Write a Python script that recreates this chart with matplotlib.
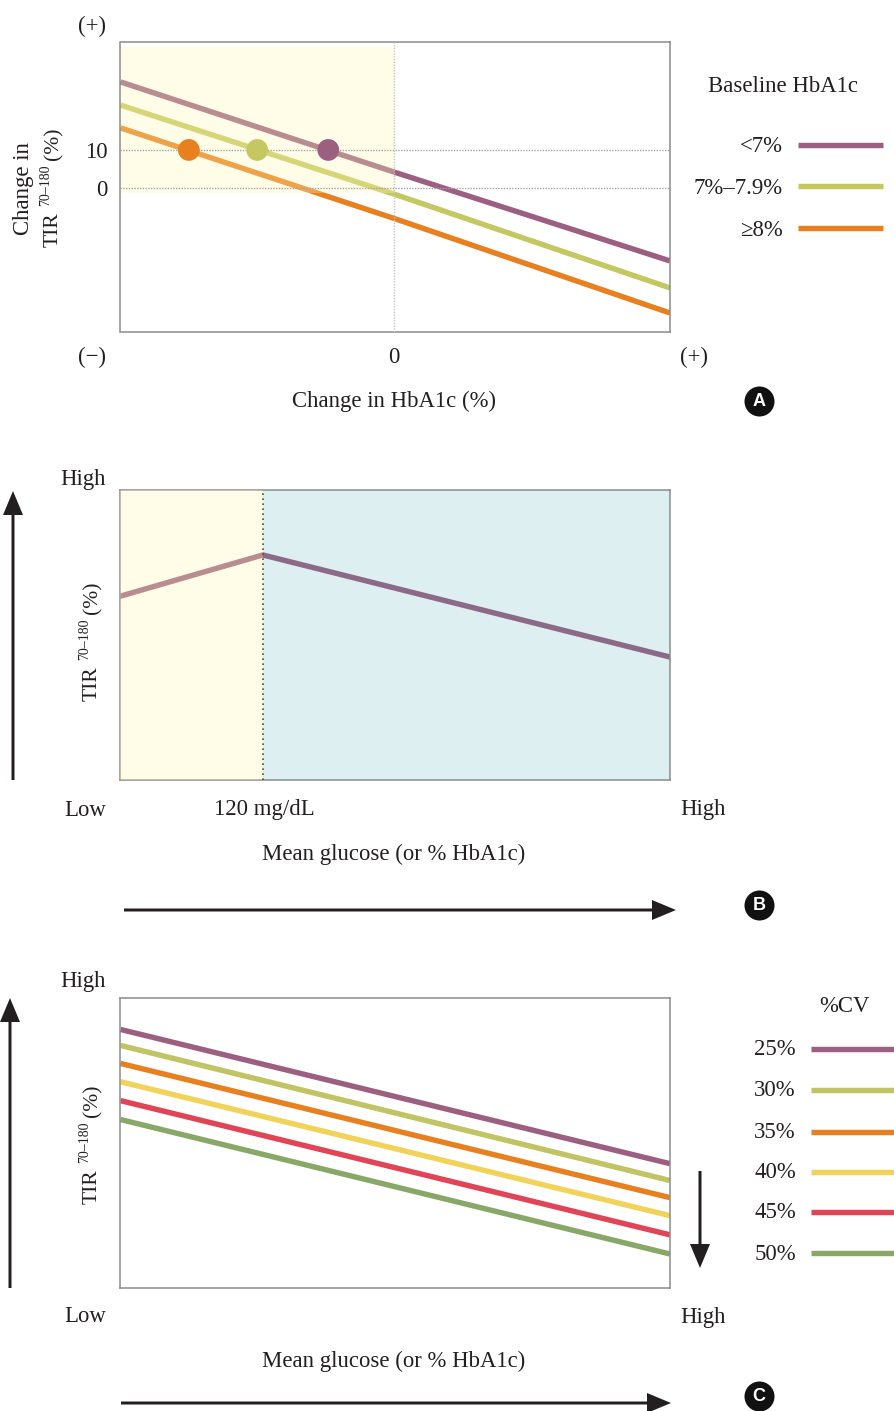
import matplotlib
matplotlib.use("Agg")
import matplotlib.pyplot as plt
from matplotlib.patches import Rectangle

plt.rcParams['font.family'] = ['Liberation Serif', 'DejaVu Serif']

# panel A data
a_x = [-1.0, 0.0, 1.01]
a_labels = ['<7%', '7%\u20137.9%', '\u22658%']
a_lines = [[27.9, 4.2, -19.2], [21.8, -1.6, -26.3], [15.8, -8.0, -32.9]]
a_points_x = [-0.24, -0.5, -0.75]
a_points_y = [10, 10, 10]
a_colors = ['#9c5f80', '#c5c860', '#e8801f']

# panel B data
b_x = [0, 25.9, 100]
b_y = [63.4, 77.6, 42.4]

# panel C data
c_x = [0, 100]
c_labels = ['25%', '30%', '35%', '40%', '45%', '50%']
c_lines = [[89.0, 42.8], [83.5, 37.0], [77.3, 31.1], [71.0, 24.9], [64.5, 18.3], [58.0, 11.7]]
c_colors = ['#9c5f80', '#c0c463', '#e8801f', '#f2d35a', '#e04456', '#88a868']

W, H = 895, 1411
TXT = '#231f20'
FS = 16.4
LW = 3.9

fig = plt.figure(figsize=(W / 100, H / 100), dpi=100)


def make_axes(top, bottom, left=120.5, right=670):
    ax = fig.add_axes([left / W, 1 - bottom / H, (right - left) / W, (bottom - top) / H])
    for s in ax.spines.values():
        s.set_color('#8c8c8c')
        s.set_linewidth(1.1)
    return ax


# overlay in pixel coordinates for labels, arrows, legends
ov = fig.add_axes([0, 0, 1, 1], zorder=5)
ov.set_xlim(0, W)
ov.set_ylim(H, 0)
ov.axis('off')
ov.patch.set_alpha(0)


def label(x, y, s, ha='center', size=FS):
    ov.text(x, y + 2, s, ha=ha, va='center', fontsize=size, color=TXT)


def vlabel(x, y, s, size=FS):
    # rotated text: x is the baseline, y the lower end
    ov.text(x, y, s, ha='left', va='baseline', rotation=90, rotation_mode='anchor',
            fontsize=size, color=TXT)


def tir_label(x, y):
    vlabel(x, y, 'TIR', size=15.5)
    vlabel(x - 9, y - 41, '70\u2013180', size=10)
    vlabel(x, y - 87, '(%)', size=15.5)


def arrow(x0, y0, x1, y1):
    ov.arrow(x0, y0, x1 - x0, y1 - y0, width=3, head_width=20, head_length=24,
             length_includes_head=True, color=TXT, linewidth=0)


def badge(y, s):
    ov.scatter([759], [y], s=467, color='#111111', linewidths=0)
    ov.text(759, y + 0.5, s, ha='center', va='center', fontsize=13, fontweight='bold',
            color='white', family='Liberation Sans')


# ---- panel A
ax = make_axes(42, 332)
ax.set_xlim(-1.0, 1.01)
ax.set_ylim(-37.9, 38.4)
for vals, col in zip(a_lines, a_colors):
    ax.plot(a_x, vals, color=col, lw=LW, solid_capstyle='butt', zorder=2)
ax.add_patch(Rectangle((-1.0, -1.3), 1.0, 38.3, facecolor=(1, 0.97, 0.7), alpha=0.3,
                       linewidth=0, zorder=3))
ax.axhline(10, color='#a5a5a5', lw=1, ls=(0, (1, 1)), zorder=4)
ax.axhline(0, color='#a5a5a5', lw=1, ls=(0, (1, 1)), zorder=4)
ax.axvline(0, color='#c4c4c4', lw=1, ls=(0, (1, 1)), zorder=4)
ax.scatter(a_points_x, a_points_y, s=245, c=a_colors, linewidths=0, zorder=5)
ax.set_xticks([0])
ax.set_yticks([0, 10])
ax.tick_params(length=0, labelsize=FS, labelcolor=TXT)
ax.tick_params(axis='x', pad=11)
ax.tick_params(axis='y', pad=9)

label(92, 24, '(+)')
label(92, 355, '(\u2212)')
label(694, 355, '(+)')
vlabel(29, 235, 'Change in')
tir_label(58, 247)
label(394, 399, 'Change in HbA1c (%)')
label(783, 85, 'Baseline HbA1c')
for name, col, y in zip(a_labels, a_colors, [145, 186, 228]):
    label(783, y, name, ha='right')
    ov.plot([798, 883], [y, y], color=col, lw=LW, solid_capstyle='butt')
badge(401, 'A')

# ---- panel B
ax = make_axes(490, 780)
ax.set_xlim(0, 100)
ax.set_ylim(0, 100)
ax.plot(b_x, b_y, color=a_colors[0], lw=LW, solid_joinstyle='miter', zorder=2)
ax.axvspan(0, b_x[1], facecolor=(1, 0.97, 0.7), alpha=0.3, linewidth=0, zorder=3)
ax.axvspan(b_x[1], 100, facecolor=(0.2, 0.63, 0.68), alpha=0.16, linewidth=0, zorder=3)
ax.axvline(b_x[1], color='#55503c', lw=1.2, ls=(0, (1, 2)), zorder=4)
ax.set_xticks([])
ax.set_yticks([])

arrow(13, 780, 13, 491)
arrow(124, 910, 676, 910)
label(106, 477, 'High', ha='right')
label(106, 808, 'Low', ha='right')
label(264, 808, '120 mg/dL')
label(680, 808, 'High', ha='left')
tir_label(97, 701)
label(394, 852, 'Mean glucose (or % HbA1c)')
badge(905, 'B')

# ---- panel C
ax = make_axes(997.5, 1288)
ax.set_xlim(0, 100)
ax.set_ylim(0, 100)
for vals, col in zip(c_lines, c_colors):
    ax.plot(c_x, vals, color=col, lw=LW, solid_capstyle='butt')
ax.set_xticks([])
ax.set_yticks([])

arrow(10, 1288, 10, 998)
arrow(121, 1403, 671, 1403)
arrow(700, 1171, 700, 1268)
label(106, 979, 'High', ha='right')
label(106, 1315, 'Low', ha='right')
label(680, 1315, 'High', ha='left')
tir_label(97, 1204)
label(394, 1359, 'Mean glucose (or % HbA1c)')
label(844, 1005, '%CV')
for name, col, y in zip(c_labels, c_colors, [1048.5, 1089.5, 1131.5, 1172, 1212, 1253]):
    label(796, y - 1, name, ha='right')
    ov.plot([811, 895], [y, y], color=col, lw=LW, solid_capstyle='butt')
badge(1396, 'C')

fig.savefig('out.png', dpi=100)
